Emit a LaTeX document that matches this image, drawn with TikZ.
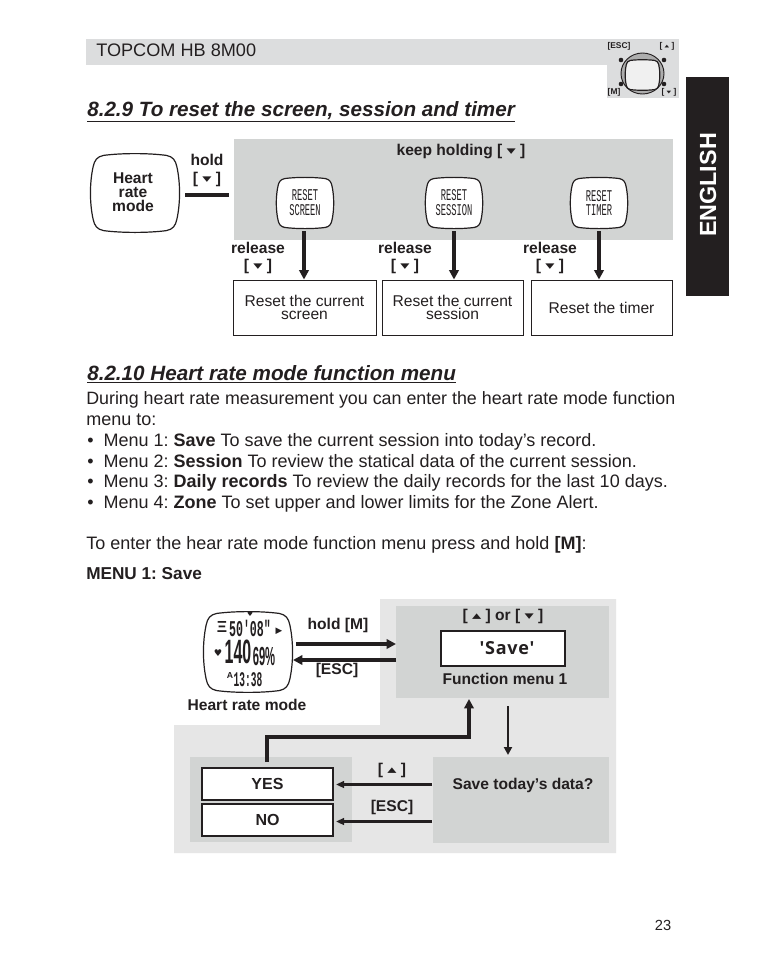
\documentclass[tikz,border=0pt]{standalone}
\usepackage{fontspec}
\usepackage{graphicx}
\setmainfont{Liberation Sans}
\newfontfamily\lcdfont{Liberation Mono}
\newfontfamily\symfont{DejaVu Sans}
\usetikzlibrary{arrows.meta,calc}
\definecolor{panelgrey}{HTML}{D2D4D3}
\definecolor{lightpanel}{HTML}{E6E6E6}
\definecolor{bandgrey}{HTML}{DCDDDE}
\definecolor{ink}{HTML}{231F20}
\frenchspacing
\newcommand{\fs}[2]{\fontsize{#1pt}{#2pt}\selectfont}
\newcommand{\dn}{\raisebox{1.4pt}{\scalebox{1}[0.6]{\symfont\fontsize{9pt}{9pt}\selectfont ▼}}}
\newcommand{\up}{\raisebox{1.4pt}{\scalebox{1}[0.6]{\symfont\fontsize{9pt}{9pt}\selectfont ▲}}}
\newcommand{\idn}{\raisebox{0.7pt}{\scalebox{1}[0.6]{\symfont\fontsize{4.5pt}{4.5pt}\selectfont ▼}}}
\newcommand{\iup}{\raisebox{0.7pt}{\scalebox{1}[0.6]{\symfont\fontsize{4.5pt}{4.5pt}\selectfont ▲}}}
\newcommand{\lcdtwo}[2]{\scalebox{0.8}[1.5]{#1}\\\scalebox{0.8}[1.5]{#2}}
\newcommand{\bulgeshape}{(-0.70,0.94) .. controls (-0.3,1) and (0.3,1) .. (0.70,0.94)
 .. controls (0.84,0.91) and (0.9,0.82) .. (0.93,0.66)
 .. controls (1.01,0.25) and (1.01,-0.25) .. (0.93,-0.66)
 .. controls (0.9,-0.82) and (0.84,-0.91) .. (0.70,-0.94)
 .. controls (0.3,-1) and (-0.3,-1) .. (-0.70,-0.94)
 .. controls (-0.84,-0.91) and (-0.9,-0.82) .. (-0.93,-0.66)
 .. controls (-1.01,-0.25) and (-1.01,0.25) .. (-0.93,0.66)
 .. controls (-0.9,0.82) and (-0.84,0.91) .. (-0.70,0.94) -- cycle}
% \bulge{cx}{cy}{half width}{half height}
\newcommand{\bulge}[4]{\begin{scope}[shift={(#1,#2)},x=#3*0.75pt,y=#4*0.75pt]
 \draw[ink,line width=0.9pt,fill=white] \bulgeshape;\end{scope}}
\tikzset{
 x=0.75pt,y=-0.75pt,
 body/.style={anchor=base west,inner sep=0pt,text=ink,font=\fs{13.5}{15}},
 title/.style={anchor=base west,inner sep=0pt,text=ink,font=\fs{15.5}{17}\bfseries\itshape},
 lab/.style={inner sep=0pt,text=ink,font=\fs{11.7}{11.7}\bfseries,align=center},
 resultbox/.style={draw=ink,line width=0.7pt,fill=white,inner sep=0pt,text=ink,align=center,font=\fs{11.7}{10.2}},
 choice/.style={draw=ink,line width=1.2pt,fill=white,inner sep=0pt,text=ink,font=\fs{12}{12}\bfseries},
 lcdtext/.style={inner sep=0pt,align=center,text=ink},
 lcdsmall/.style={lcdtext,font=\lcdfont\fs{8.2}{11.2}},
 bar/.style={ink,line width=3.2pt},
 flow/.style={ink,line width=2.9pt,-{Triangle[length=7pt,width=7pt]}},
 flowthin/.style={ink,line width=2.1pt,-{Triangle[length=6pt,width=6pt]}},
 iconlab/.style={inner sep=0pt,text=ink,font=\fs{6.3}{7}\bfseries},
}
\begin{document}
\begin{tikzpicture}
\useasboundingbox (0,0) rectangle (761,954);
\fill[white] (0,0) rectangle (761,954);
% header
\fill[bandgrey] (86,39) rectangle (679,65);
\fill[bandgrey] (607,39) rectangle (679,98);
\node[anchor=base west,inner sep=0pt,text=ink,font=\fs{13.6}{15}] (hdr) at (96,56) {TOPCOM HB 8M00};
\node[iconlab] (ie) at (619,46) {[ESC]};
\node[iconlab] (iu) at (667,46) {[ \iup\ ]};
\node[iconlab] (im) at (614,92) {[M]};
\node[iconlab] (id) at (669,92) {[ \idn\ ]};
\draw[ink,line width=0.7pt,fill=black!32] (642.5,73.5) ellipse (21.5 and 20.5);
\fill[ink] (621,60) circle (2.3) (664,60) circle (2.3) (621,84) circle (2.3) (664,84) circle (2.3);
\begin{scope}[shift={(642.5,75)},x=17.5*0.75pt,y=15.5*0.75pt]
 \draw[ink,line width=0.9pt,fill=black!6] \bulgeshape;
\end{scope}
% titles
\node[title] (t1) at (87,116) {\underline{8.2.9 To reset the screen, session and timer}};
\node[title] (t2) at (87,380.5) {\underline{8.2.10 Heart rate mode function menu}};
% english tab
\fill[ink] (686,77) rectangle (729,296);
\node[rotate=90,inner sep=0pt,text=white,font=\fs{17.5}{18}\bfseries] (eng) at (708,185) {ENGLISH};
% section 1
\fill[panelgrey] (234,139) rectangle (673,240);
\bulge{135}{193}{45}{40}
\node[lab,font=\fs{11.7}{10.4}\bfseries] (hr) at (133,192) {Heart\\rate\\mode};
\node[lab] (hold) at (207,160) {hold};
\node[lab] (holdk) at (207,179) {[ \dn\ ]};
\coordinate (bara) at (185,195);
\coordinate (barb) at (229,195);
\draw[bar] (bara) -- (barb);
\node[lab] (keep) at (461,151) {keep holding [ \dn\ ]};
\bulge{305}{203}{29}{26}
\bulge{454}{203}{29}{26}
\bulge{599}{203}{29}{26}
\node[lcdsmall] (s1) at (305,203) {\lcdtwo{RESET}{SCREEN}};
\node[lcdsmall] (s2) at (454,203) {\lcdtwo{RESET}{SESSION}};
\node[lcdsmall] (s3) at (599,203) {\lcdtwo{RESET}{TIMER}};
\node[resultbox,minimum width=143*0.75pt,minimum height=55*0.75pt] (r1) at (304.5,307.5) {Reset the current\\screen};
\node[resultbox,minimum width=141*0.75pt,minimum height=55*0.75pt] (r2) at (452.5,307.5) {Reset the current\\session};
\node[resultbox,minimum width=141*0.75pt,minimum height=55*0.75pt] (r3) at (601.5,307.5) {Reset the timer};
\coordinate (a1) at (304,231);
\coordinate (a2) at (454,231);
\coordinate (a3) at (599,231);
\draw[flow] (a1) -- (a1 |- r1.north);
\draw[flow] (a2) -- (a2 |- r2.north);
\draw[flow] (a3) -- (a3 |- r3.north);
\node[lab] (l1) at (258,248) {release};
\node[lab] (k1) at (258,266) {[ \dn\ ]};
\node[lab] (l2) at (405,248) {release};
\node[lab] (k2) at (405,266) {[ \dn\ ]};
\node[lab] (l3) at (550,248) {release};
\node[lab] (k3) at (550,266) {[ \dn\ ]};
% body
\node[body,font=\fs{13.38}{15}] (b1) at (86,404.5) {During heart rate measurement you can enter the heart rate mode function};
\node[body] (b2) at (86,425) {menu to:};
\node[body] (b3) at (87,446) {•\ \ Menu 1: \textbf{Save} To save the current session into today’s record.};
\node[body] (b4) at (87,467) {•\ \ Menu 2: \textbf{Session} To review the statical data of the current session.};
\node[body] (b5) at (87,487.5) {•\ \ Menu 3: \textbf{Daily records} To review the daily records for the last 10 days.};
\node[body] (b6) at (87,508.5) {•\ \ Menu 4: \textbf{Zone} To set upper and lower limits for the Zone Alert.};
\node[body] (b7) at (86,549.5) {To enter the hear rate mode function menu press and hold \textbf{[M]}:};
\node[body,font=\fs{12.9}{14}\bfseries] (b8) at (86,579) {MENU 1: Save};
% section 2 panels
\fill[lightpanel] (380,599) -- (616,599) -- (616,853) -- (174,853) -- (174,725) -- (380,725) -- cycle;
\fill[panelgrey] (396,606) rectangle (609,698);
\fill[panelgrey] (190,757) rectangle (352,842);
\fill[panelgrey] (433,757) rectangle (609,843);
\coordinate (fm) at (396,644);
\coordinate (fmb) at (396,660);
% watch
\bulge{248}{652}{45}{41}
\node[inner sep=0pt,text=ink,font=\symfont\fs{5}{5}] (hrt) at (250,614) {♥};
\node[lcdtext,font=\bfseries\fs{12}{12}] (w0) at (222,627) {Ξ};
\node[lcdtext,font=\lcdfont\bfseries\fs{13}{13}] (w1) at (250,628) {\scalebox{0.67}[1.3]{50'08"}};
\node[inner sep=0pt,text=ink,font=\symfont\fs{6.5}{7}] (w1b) at (279,631) {▶};
\node[inner sep=0pt,text=ink,font=\symfont\fs{7}{7}] (w2a) at (218,653) {♥};
\node[lcdtext,font=\bfseries\fs{23}{23}] (w2) at (238,652) {\scalebox{0.52}[1.1]{140}};
\node[lcdtext,font=\bfseries\fs{14}{14}] (w3) at (264,656) {\scalebox{0.6}[1.4]{69\%}};
\node[lcdtext,font=\lcdfont\bfseries\fs{13}{13}] (w4) at (248,680) {\scalebox{0.55}[1.2]{13:38}};
\node[lcdtext,font=\bfseries\fs{6.5}{6.5}] (w5) at (230,676) {A};
\node[lab] (hrm) at (247,705) {Heart rate mode};
\node[lab] (hm) at (338,625) {hold [M]};
\node[lab] (esc) at (337,670) {[ESC]};
\coordinate (wr) at (296,644);
\coordinate (wl) at (293,660);
\draw[flow,line width=3.6pt] (wr) -- (fm);
\draw[flow,line width=3.6pt] (fmb) -- (wl);
% function menu
\node[lab] (sel) at (503,616) {[ \up\ ] or [ \dn\ ]};
\node[draw=ink,line width=1.2pt,fill=white,inner sep=0pt,minimum width=124*0.75pt,minimum height=35*0.75pt,text=ink,font={\fontspec{Open Sans}\fs{13.5}{14}\bfseries}] (sv) at (503,648.5) {\hspace*{6pt}\addfontfeatures{LetterSpace=4}'Save'};
\node[lab] (fm1) at (505,679) {Function menu 1};
% lower part
\node[choice,minimum width=131*0.75pt,minimum height=32*0.75pt] (yes) at (267.5,784) {YES};
\node[choice,minimum width=131*0.75pt,minimum height=32*0.75pt] (no) at (267.5,820) {NO};
\node[lab] (q) at (523,785.5) {Save today’s data?};
\coordinate (fbot) at (469,699);
\coordinate (ftop) at (508,706);
\coordinate (qtop) at (508,755);
\coordinate (ys) at (267,762);
\coordinate (qy) at (432,784.5);
\coordinate (qn) at (432,821.5);
\coordinate (ye) at (336,784.5);
\coordinate (ne) at (336,821.5);
\draw[ink,line width=3pt,-{Triangle[length=7pt,width=7pt]}] (ys) -- (267,737) -- (469,737) -- (fbot);
\draw[flowthin] (ftop) -- (qtop);
\draw[ink,line width=2.4pt,-{Triangle[length=6pt,width=5pt]}] (qy) -- (ye);
\draw[ink,line width=2.4pt,-{Triangle[length=6pt,width=5pt]}] (qn) -- (ne);
\node[lab] (ku) at (392,770) {[ \up\ ]};
\node[lab] (ke) at (392,807) {[ESC]};
\node[inner sep=0pt,text=ink,font=\fs{11}{12}] (pg) at (663,925) {23};
\end{tikzpicture}
\end{document}
